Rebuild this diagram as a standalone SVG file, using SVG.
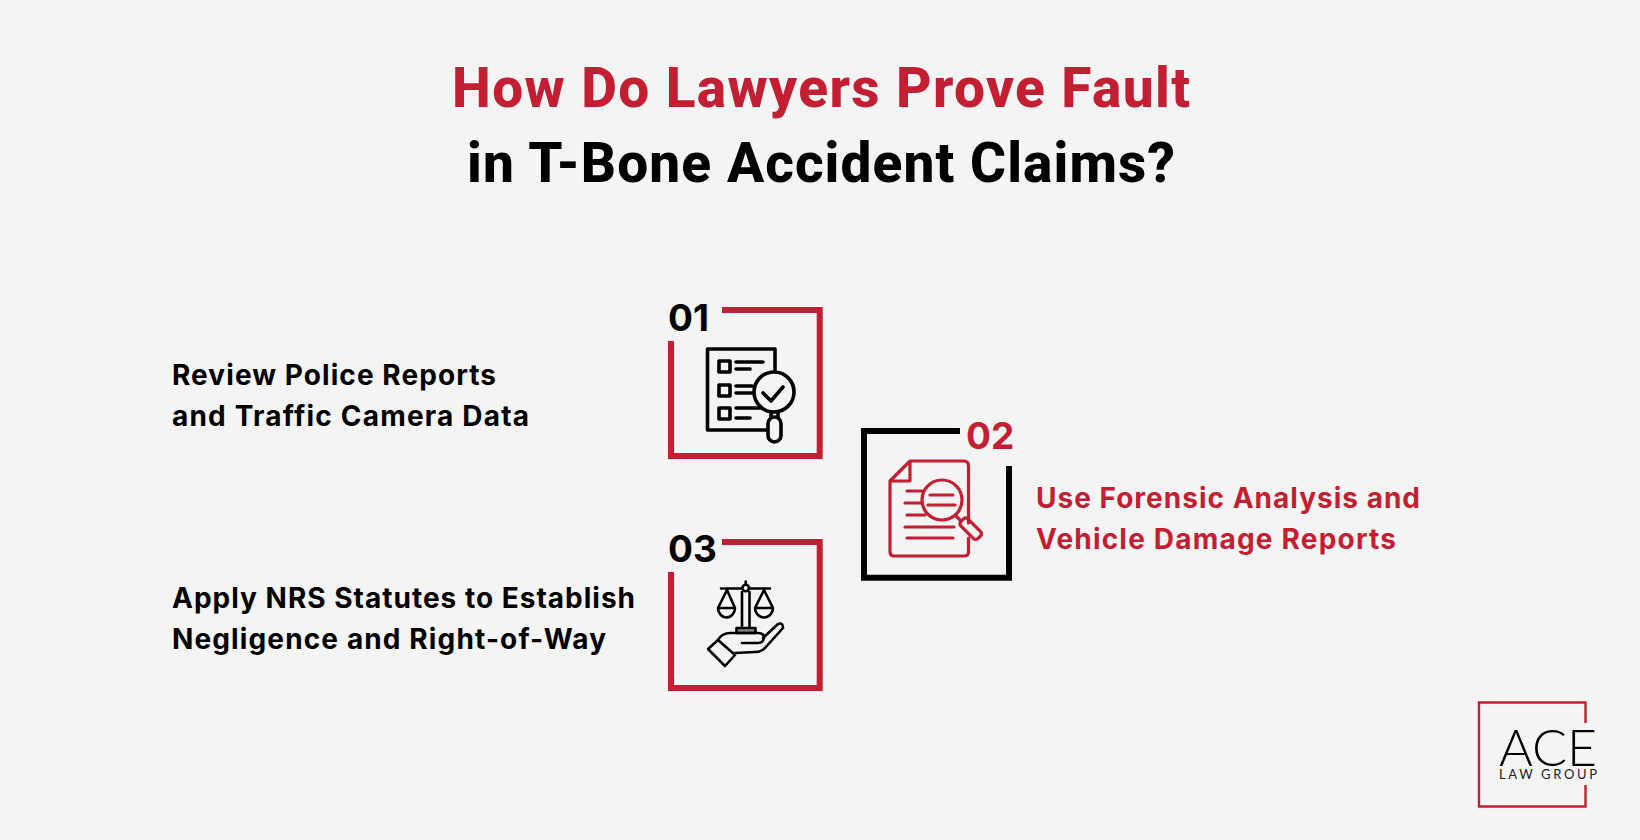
<svg xmlns="http://www.w3.org/2000/svg" width="1640" height="840" viewBox="0 0 1640 840">
<style>
.t{font-family:Roboto,sans-serif;font-weight:800;font-size:55px}
.i{font-family:Inter,sans-serif;font-size:28px;font-weight:700}
.n{font-family:Inter,sans-serif;font-size:37px;font-weight:700}
.r{fill:#c41e33}.k{fill:#000}
.fr{fill:none;stroke-width:6;stroke-linecap:butt;stroke-linejoin:miter}
.ic{fill:none;stroke-width:3.6;stroke-linecap:round;stroke-linejoin:round}
</style>
<rect width="1640" height="840" fill="#f4f4f4"/>
<g id="title">
<text class="t r" x="452" y="107" textLength="738">How Do Lawyers Prove Fault</text>
<text class="t k" x="467" y="182" textLength="708">in T-Bone Accident Claims?</text>
</g>
<g id="node-01">
<path class="fr" stroke="#c41e33" d="M722 310H819.700V456H671V341"/>
<text class="n k" x="668" y="331">01</text>
<g class="ic" stroke="#000">
<path d="M775 370V349H707.500V430H767"/>
<rect x="719" y="361" width="11" height="11"/><rect x="719" y="385" width="11" height="11"/><rect x="719" y="408" width="11" height="11"/>
<path d="M736 362H763M736 369H750M736 386H752M736 393H752M736 408H760M736 418H750"/>
<circle cx="774" cy="392" r="20"/>
<path d="M763 393L771 401L783 387"/>
<path d="M771 412V417M778 412V417"/>
<rect x="768" y="417" width="13" height="25" rx="6.500"/>
</g>
</g>
<g id="node-02">
<path class="fr" stroke="#000" d="M960 431H864V577.800H1009V466"/>
<text class="n r" x="966" y="449">02</text>
<g class="ic" stroke="#c41e33" style="stroke-width:3.2">
<path d="M968.500 523V466Q968.500 461 964 461H910L890 481V552Q890 556 894 556H964Q968.500 556 968.500 552V538M910 461V481H890"/>
<circle cx="942" cy="500" r="20"/>
<path d="M930 495H953M928 505H955M907 491H922M905 503H922M907 515H925M905 527H954M907 538H953"/>
<path d="M956 516L961 521"/>
<rect x="958.700" y="523.700" width="24" height="10" rx="3" transform="rotate(45 970.700 528.700)"/>
</g>
</g>
<g id="node-03">
<path class="fr" stroke="#c41e33" d="M722 542H819.700V688H671V572"/>
<text class="n k" x="668" y="562">03</text>
<g class="ic" stroke="#000" style="stroke-width:2.600">
<path d="M721 588.500H770M742 592V628M749.500 592V628"/>
<circle cx="745.700" cy="588" r="3.200" fill="#f4f4f4"/>
<path d="M745.700 584.500V581.500"/>
<path d="M727 590L718 608A8.500 9.500 0 0 0 735 608L727 590M718 608H735"/>
<path d="M764 590L755 608A9 9.500 0 0 0 773 608L764 590M755 608H773"/>
<rect x="736.500" y="628" width="19" height="5" fill="#888"/>
<path d="M718 640Q722 633 730 633H758Q764 633 764 638Q763 643 758 643H742M763 638L778 624Q783 622 783 628L765 648Q761 652 755 652L735 653"/>
<path d="M718 640L708 649L725 666L735 655Z"/>
</g>
</g>
<g id="label-01"><text class="i k" x="172" y="385" textLength="324">Review Police Reports</text><text class="i k" x="172" y="426" textLength="357">and Traffic Camera Data</text></g>
<g id="label-02"><text class="i r" x="1036" y="508" textLength="384">Use Forensic Analysis and</text><text class="i r" x="1036" y="549" textLength="360">Vehicle Damage Reports</text></g>
<g id="label-03"><text class="i k" x="172" y="608" textLength="463">Apply NRS Statutes to Establish</text><text class="i k" x="172" y="649" textLength="434">Negligence and Right-of-Way</text></g>
<g id="logo">
<path fill="none" stroke="#c41e33" stroke-width="2.400" d="M1585.500 723V702.500H1479V806.500H1585.500V785"/>
<text x="1499" y="766" style="font-family:Lato,sans-serif;font-weight:300;font-size:51px" fill="#000" textLength="98" lengthAdjust="spacingAndGlyphs">ACE</text>
<text x="1499" y="779" style="font-family:Lato,sans-serif;font-weight:400;font-size:13px" fill="#222" textLength="98">LAW GROUP</text>
</g>
</svg>
